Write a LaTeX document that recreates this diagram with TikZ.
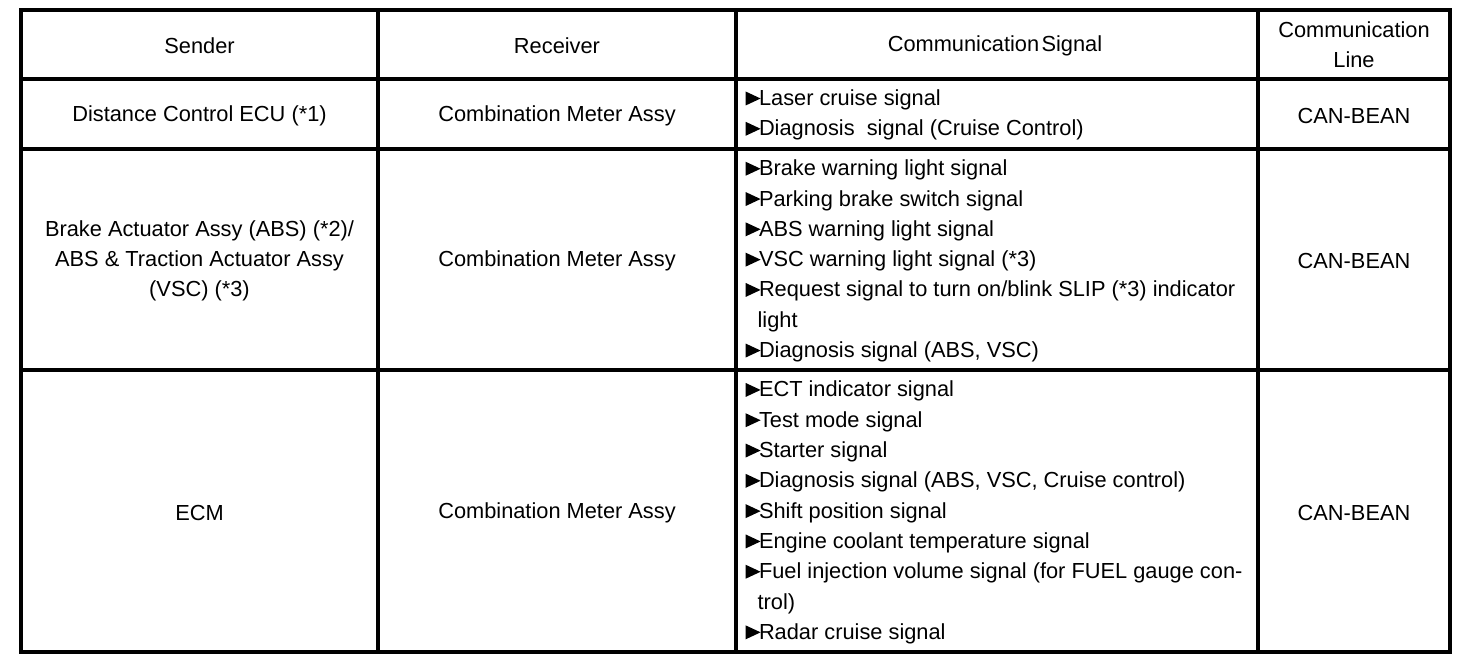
\documentclass[tikz,border=0pt]{standalone}
\usepackage{fontspec}
\setmainfont{Liberation Sans}
\newcommand\bul{\makebox[7.3pt][l]{\hspace{0.6pt}\tikz[baseline=0pt]\fill (0pt,0pt) -- (0pt,7pt) -- (7.5pt,3.5pt) -- cycle;}}
\newcommand\cont{\hspace*{6.6pt}}
\begin{document}
\begin{tikzpicture}[x=0.5pt,y=-0.5pt,
  grid/.style={line width=1.75pt,line cap=rect},
  cell/.style={inner sep=0pt,align=center,font=\fontsize{10.9}{15.15}\selectfont},
  sig/.style={inner sep=0pt,anchor=west,align=left,font=\fontsize{10.9}{15.15}\selectfont}]
\useasboundingbox (0,0) rectangle (1472,664);
\fill[white] (0,0) rectangle (1472,664);
% grid
\draw[grid] (21,10) rectangle (1450,652);
\foreach \yy in {79,149,370} \draw[grid] (21,\yy) -- (1450,\yy);
\foreach \xx in {378,736,1258} \draw[grid] (\xx,10) -- (\xx,652);
% header
\node[cell] (h1) at (199.5,46) {Sender};
\node[cell] (h2) at (557,46) {Receiver};
\node[cell] (h3) at (995,46) {Communication\hspace{1.2pt}Signal};
\node[cell] (h4) at (1354,45) {Communication\\Line};
% row 1
\node[cell] (s1) at (199.5,115.5) {Distance Control ECU (*1)};
\node[cell] (r1) at (557,115.5) {Combination Meter Assy};
\node[sig] (c1) at (744,115) {\bul Laser cruise signal\\\bul Diagnosis\ \ signal (Cruise Control)};
\node[cell] (l1) at (1354,115.5) {CAN-BEAN};
% row 2
\node[cell] (s2) at (199.5,261) {Brake Actuator Assy (ABS) (*2)/\\ABS \& Traction Actuator Assy\\(VSC) (*3)};
\node[cell] (r2) at (557,261) {Combination Meter Assy};
\node[sig] (c2) at (744,261) {\bul Brake warning light signal\\\bul Parking brake switch signal\\\bul ABS warning light signal\\\bul VSC warning light signal (*3)\\\bul Request signal to turn on/blink SLIP (*3) indicator\\\cont light\\\bul Diagnosis signal (ABS, VSC)};
\node[cell] (l2) at (1354,261) {CAN-BEAN};
% row 3
\node[cell] (s3) at (199.5,512.5) {ECM};
\node[cell] (r3) at (557,512.5) {Combination Meter Assy};
\node[sig] (c3) at (744,512.5) {\bul ECT indicator signal\\\bul Test mode signal\\\bul Starter signal\\\bul Diagnosis signal (ABS, VSC, Cruise control)\\\bul Shift position signal\\\bul Engine coolant temperature signal\\\bul Fuel injection volume signal (for FUEL gauge con-\\\cont trol)\\\bul Radar cruise signal};
\node[cell] (l3) at (1354,512.5) {CAN-BEAN};
\end{tikzpicture}
\end{document}
